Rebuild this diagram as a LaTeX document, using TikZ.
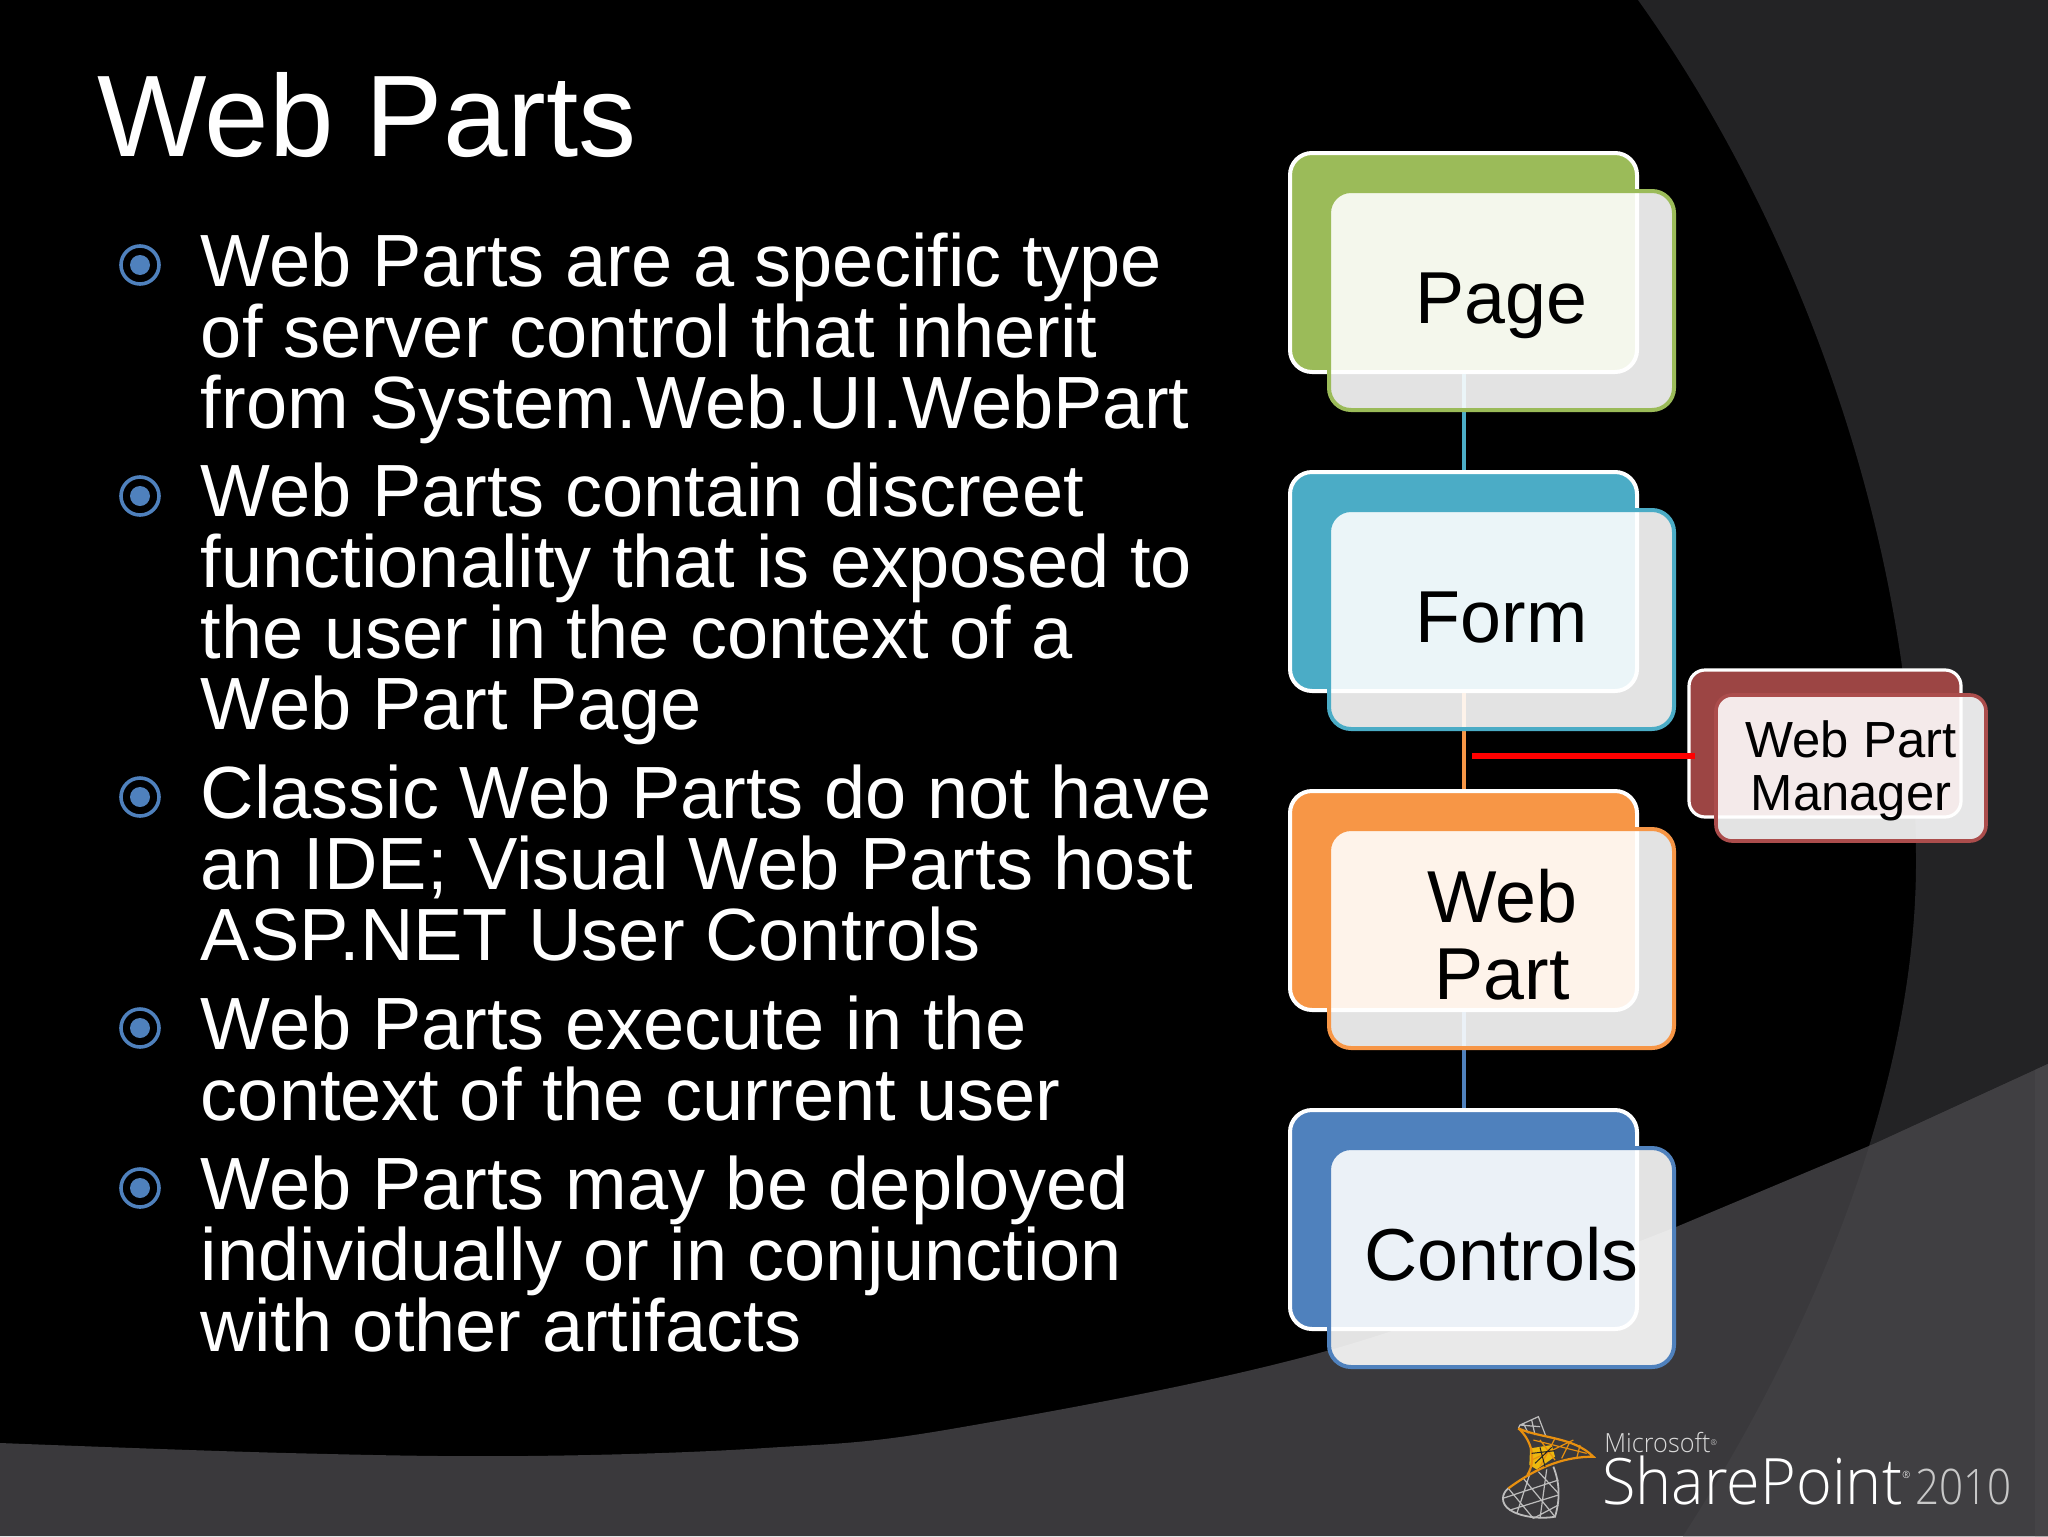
\documentclass[tikz,border=0pt]{standalone}
\usepackage{fontspec}
\setmainfont{Liberation Sans}
\newfontfamily\logofont[FakeStretch=0.956]{Open Sans Light}
\newfontfamily\yearfont[FakeStretch=0.86]{Open Sans Light}
\definecolor{topgrey}{HTML}{232325}
\definecolor{bandgrey}{HTML}{3A393C}
\definecolor{bandlight}{HTML}{403F42}
\definecolor{bandedge}{HTML}{454447}
\definecolor{bulletblue}{HTML}{4F81BD}
\definecolor{cgreen}{HTML}{9BBB59}
\definecolor{cteal}{HTML}{4BACC6}
\definecolor{corange}{HTML}{F79646}
\definecolor{cblue}{HTML}{4F81BD}
\definecolor{cred}{HTML}{9C4544}
\definecolor{credline}{HTML}{AB4D4C}
\definecolor{logoorange}{HTML}{E8900F}
\definecolor{logoyellow}{HTML}{EDB90F}
\definecolor{logogrey}{HTML}{BDBDBD}
\definecolor{yeargrey}{HTML}{C8C8C8}
\tikzset{
  para/.style={anchor=north west,inner sep=0pt,align=left,text=white,font=\fontsize{37pt}{35.5pt}\selectfont},
  bulletring/.style={circle,draw=bulletblue,line width=1.8pt,minimum size=19pt,inner sep=0pt},
  bulletdot/.style={circle,fill=bulletblue,minimum size=10pt,inner sep=0pt},
  backbox/.style={rectangle,rounded corners=11pt,draw=white,line width=2pt,fill=#1,minimum width=173.5pt,minimum height=109.5pt,inner sep=0pt},
  frontbox/.style={rectangle,rounded corners=11pt,draw=#1,line width=2pt,fill=white,fill opacity=.89,draw opacity=1,text opacity=1,text=black,minimum width=172.5pt,minimum height=109.5pt,inner sep=0pt,align=center,text height=28pt,text depth=5.5pt,font=\fontsize{36.8pt}{38pt}\selectfont},
  boxlabel/.style={inner sep=0pt,align=center,text=black,font=\fontsize{36.8pt}{38.5pt}\selectfont},
  mgrback/.style={rectangle,rounded corners=8pt,draw=white,line width=1.6pt,fill=cred,minimum width=136pt,minimum height=73.5pt,inner sep=0pt},
  mgrfront/.style={rectangle,rounded corners=8pt,draw=credline,line width=1.8pt,fill=white,fill opacity=.89,draw opacity=1,inner sep=0pt,minimum width=135pt,minimum height=73pt},
  mgrlabel/.style={inner sep=0pt,align=center,text=black,font=\fontsize{25.4pt}{26.5pt}\selectfont},
  conn/.style={draw=#1,line width=2pt},
  logotext/.style={anchor=base west,inner sep=0pt,text=white},
  goldwire/.style={draw=logoorange,line width=.6pt},
  greywire/.style={draw=logogrey,line width=.6pt},
}
\newcommand{\arcline}{(1638,0) .. controls (1785,205) and (1916,520) .. (1916,862) .. controls (1916,1090) and (1810,1340) .. (1683,1536)}
\begin{document}
\begin{tikzpicture}[x=0.5pt,y=-0.5pt]
\useasboundingbox (0,0) rectangle (2048,1536);
\fill[black] (0,0) rectangle (2048,1536);
% backdrop arcs
\fill[topgrey] \arcline -- (2048,1536) -- (2048,0) -- cycle;
\fill[bandgrey] plot[smooth,tension=.6] coordinates {(0,1443)(287,1453)(526,1456)(765,1448)(957,1428)(1330,1350)(1676,1227)} -- (1876,1143) -- (2048,1064) -- (2048,1536) -- (0,1536) -- cycle;
\begin{scope}
\clip \arcline -- (2048,1536) -- (2048,0) -- cycle;
\fill[bandlight] (1676,1227) -- (1876,1143) -- (2048,1064) -- (2048,1536) -- (1600,1536) -- cycle;
\end{scope}
\fill[bandedge] (2035,1070) -- (2048,1064) -- (2048,1536) -- (2035,1536) -- cycle;
% title
\node[anchor=base west,inner sep=0pt,text=white,font=\fontsize{58pt}{60pt}\selectfont] (title) at (97,156) {Web Parts};
% bullets
\foreach \n/\y in {a/265,b/496,c/797,d/1028,e/1188}{
  \node[bulletring] (ring\n) at (140,\y) {};
  \node[bulletdot] (dot\n) at (140,\y) {};
}
\node[para] (p1) at (200.5,232) {Web Parts are a specific type\\of server control that inherit\\from System.Web.UI.WebPart};
\node[para] (p2) at (200.5,462.5) {Web Parts contain discreet\\functionality that is exposed to\\the user in the context of a\\Web Part Page};
\node[para] (p3) at (200.5,764.5) {Classic Web Parts do not have\\an IDE; Visual Web Parts host\\ASP.NET User Controls};
\node[para] (p4) at (200.5,995.5) {Web Parts execute in the\\context of the current user};
\node[para] (p5) at (200.5,1155.5) {Web Parts may be deployed\\individually or in conjunction\\with other artifacts};
% org chart
\node[backbox=cgreen] (pageB) at (1463.5,262.5) {};
\node[backbox=cteal] (formB) at (1463.5,581.5) {};
\node[backbox=corange] (partB) at (1463.5,900.5) {};
\node[backbox=cblue] (ctrlB) at (1463.5,1219.5) {};
\draw[conn=cteal] (pageB) -- (formB);
\draw[conn=corange] (formB) -- (partB);
\draw[conn=cblue] (partB) -- (ctrlB);
\node[frontbox=cgreen] (page) at (1501.5,300.5) {Page};
\node[frontbox=cteal] (form) at (1501.5,619.5) {Form};
\node[frontbox=corange] (part) at (1501.5,938.5) {};
\node[boxlabel] (partlabel) at (1502,935) {Web\\Part};
\node[frontbox=cblue] (ctrl) at (1501.5,1257.5) {Controls};
\node[mgrback] (mgrB) at (1825,743.5) {};
\coordinate (redstart) at (1472,756);
\coordinate (redend) at (1695,756);
\draw[red,line width=3pt] (redstart) -- (redend);
\node[mgrfront] (mgr) at (1851,768) {};
\node[mgrlabel] (mgrlabel) at (1851,771) {Web Part\\Manager};
% logo mark
\begin{scope}[shift={(1490,1410)},x=0.1667pt,y=-0.1667pt]
\draw[greywire] (85,55) -- (90,45) -- (145,20) -- (168,80) (100,40) -- (115,70) (125,30) -- (135,75) (90,45) -- (150,50);
\draw[greywire,line width=.9pt] (55,235) .. controls (35,250) and (30,280) .. (60,300) .. controls (90,320) and (150,328) .. (195,320) .. controls (210,270) and (210,220) .. (190,170);
\draw[greywire] (55,235) -- (130,325) (120,190) -- (80,312) (170,178) -- (150,325) (100,205) -- (195,320) (38,265) -- (205,210) (60,300) -- (205,255) (130,325) -- (205,285) (145,185) -- (205,250);
\fill[logoyellow] (120,115) -- (185,105) -- (195,140) -- (140,178) -- (118,165) -- cycle;
\draw[logoorange,line width=1.1pt] (85,55) .. controls (150,85) and (250,80) .. (310,140) .. controls (230,140) and (150,165) .. (55,235);
\draw[logoorange,line width=1.1pt] (85,55) .. controls (125,90) and (140,150) .. (112,195);
\draw[goldwire] (130,90) -- (290,130) (125,150) -- (250,90) (195,85) -- (150,170) (240,95) -- (215,145) (150,90) -- (195,150) (260,145) -- (270,105);
\draw[topgrey,line width=.5pt] (125,130) -- (195,122) (150,112) -- (165,170) (135,160) -- (185,112);
\end{scope}
\node[logotext,text=white!85!black,font=\logofont\fontsize{13.2pt}{14pt}\selectfont] (ms) at (1604,1452) {Microsoft\raisebox{3.5pt}{\fontsize{4pt}{4pt}\selectfont ®}};
\node[logotext,font=\logofont\fontsize{32pt}{34pt}\selectfont] (sp) at (1602,1504) {SharePoint\raisebox{13pt}{\fontsize{5pt}{5pt}\selectfont ®}};
\node[logotext,text=yeargrey,font=\yearfont\fontsize{24.5pt}{26pt}\selectfont] (yr) at (1915,1504) {2010};
\end{tikzpicture}
\end{document}
